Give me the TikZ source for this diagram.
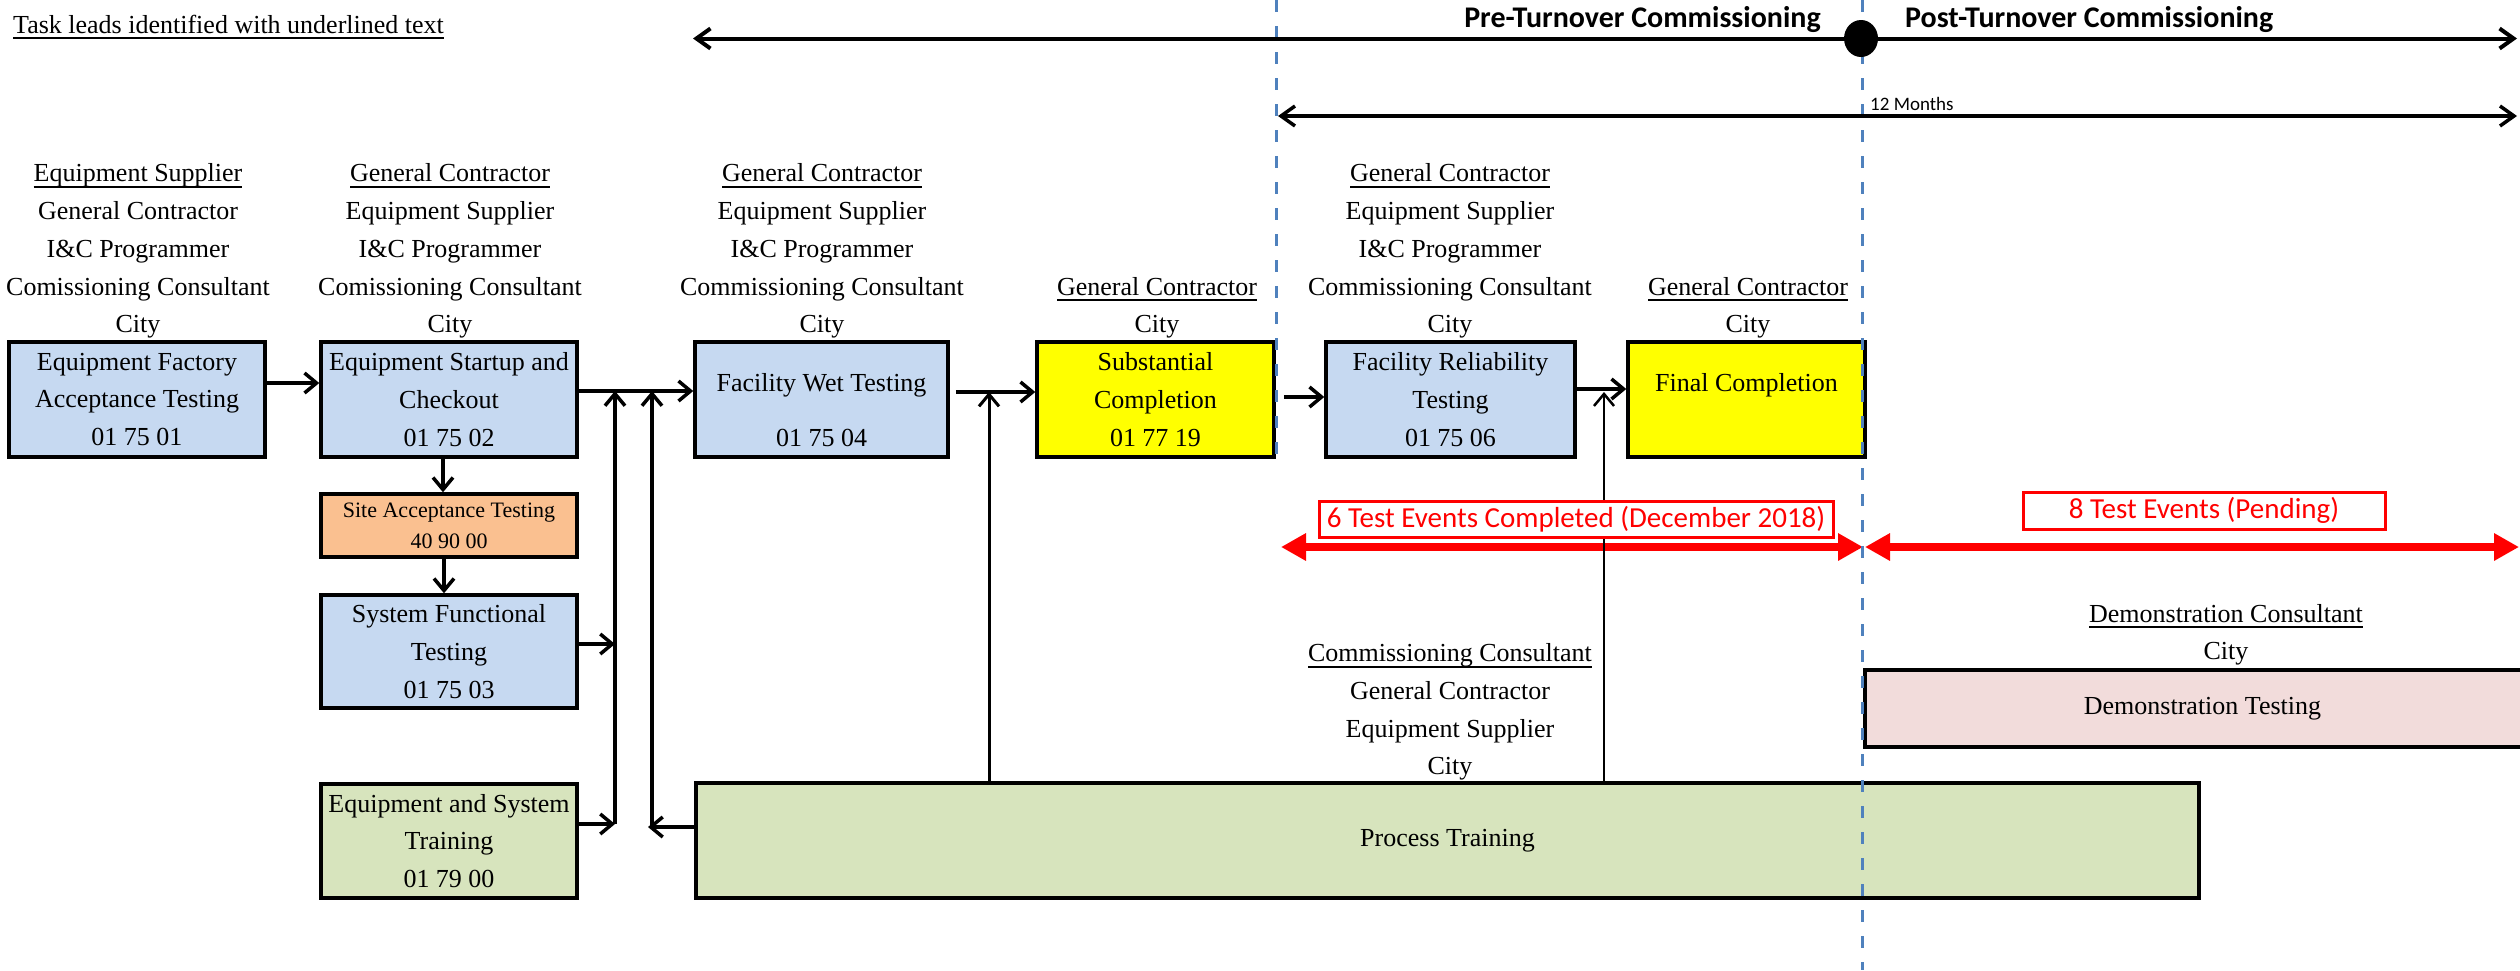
\documentclass[tikz,border=0pt]{standalone}
\usepackage{fontspec}
\setmainfont{Liberation Serif}
\newfontfamily\calib{Carlito}
\usetikzlibrary{arrows.meta,shapes.geometric}
\definecolor{boxblue}{HTML}{C6D9F1}
\definecolor{boxorange}{HTML}{FAC090}
\definecolor{boxgreen}{HTML}{D7E4BD}
\definecolor{boxpink}{HTML}{F2DCDB}
\definecolor{dashblue}{HTML}{4F81BD}
\definecolor{pureyellow}{HTML}{FFFF00}
\newcommand\myul[1]{\setbox0=\hbox{#1}\rlap{\rule[-6pt]{\wd0}{2pt}}\box0}
\newcommand\lastdp{\rule[-8pt]{0pt}{8pt}}
\begin{document}
\begin{tikzpicture}[x=1pt,y=-1pt,
  every node/.style={font=\fontsize{26}{37.75}\selectfont, inner sep=0pt},
  box/.style={draw, line width=3.5pt, align=center},
  bluebox/.style={box, fill=boxblue},
  yellowbox/.style={box, fill=pureyellow},
  orangebox/.style={box, fill=boxorange, font=\fontsize{22}{31}\selectfont},
  greenbox/.style={box, fill=boxgreen},
  pinkbox/.style={box, fill=boxpink},
  lead/.style={align=center, anchor=south},
  conn/.style={line width=3.5pt, -{Straight Barb[length=12pt,width=20pt]}},
  midconn/.style={conn, line width=3pt},
  thinconn/.style={conn, line width=2.5pt},
  dashv/.style={draw=dashblue, line width=3pt, dash pattern=on 12pt off 14pt},
  redarrow/.style={draw=red, line width=8pt, {Triangle[length=25pt,width=26pt]}-{Triangle[length=25pt,width=26pt]}},
  redbox/.style={draw=red, line width=3pt, fill=white, text=red, font=\calib\fontsize{29}{34}\selectfont},
  twoway/.style={line width=4pt, {Straight Barb[length=14pt,width=20pt]}-{Straight Barb[length=14pt,width=20pt]}},
  header/.style={font=\calib\bfseries\fontsize{30}{36}\selectfont}
]
\useasboundingbox (0,0) rectangle (2520,970);

% title note
\node[anchor=base west] (task) at (13,33) {\myul{Task leads identified with underlined text}};

% main row boxes
\node[bluebox, minimum width=256pt, minimum height=115pt] (b1) at (137,399.5) {Equipment Factory\\Acceptance Testing\\01 75 01};
\node[bluebox, minimum width=256pt, minimum height=115pt] (b2) at (449,399.5) {Equipment Startup and\\Checkout\\01 75 02};
\node[bluebox, minimum width=253pt, minimum height=115pt] (b3) at (821.5,399.5) {};
\node[align=center] (b3t) at (821.5,410.3) {Facility Wet Testing\\[17.5pt]01 75 04};
\node[yellowbox, minimum width=237pt, minimum height=115pt] (b4) at (1155.5,399.5) {Substantial\\Completion\\01 77 19};
\node[bluebox, minimum width=249pt, minimum height=115pt] (b5) at (1450.5,399.5) {Facility Reliability\\Testing\\01 75 06};
\node[yellowbox, minimum width=237pt, minimum height=115pt] (b6) at (1746.5,399.5) {};
\node (b6t) at (1746.5,385.5) {Final Completion};

% left column
\node[orangebox, minimum width=256pt, minimum height=63pt] (sat) at (449,525.5) {Site Acceptance Testing\\40 90 00};
\node[bluebox, minimum width=256pt, minimum height=113pt] (sft) at (449,651.5) {System Functional\\Testing\\01 75 03};
\node[greenbox, minimum width=256pt, minimum height=114pt] (est) at (449,841) {Equipment and System\\Training\\01 79 00};

% bottom boxes
\node[greenbox, minimum width=1503pt, minimum height=115pt] (pt) at (1447.5,840.5) {Process Training};
\node[pinkbox, minimum width=675pt, minimum height=77pt] (demo) at (2202.5,708.5) {Demonstration Testing};

% task leads
\node[lead] (l1) at (138,341) {\myul{Equipment Supplier}\\General Contractor\\I\&C Programmer\\Comissioning Consultant\\City\lastdp};
\node[lead] (l2) at (450,341) {\myul{General Contractor}\\Equipment Supplier\\I\&C Programmer\\Comissioning Consultant\\City\lastdp};
\node[lead] (l3) at (822,341) {\myul{General Contractor}\\Equipment Supplier\\I\&C Programmer\\Commissioning Consultant\\City\lastdp};
\node[lead] (l4) at (1157,341) {\myul{General Contractor}\\City\lastdp};
\node[lead] (l5) at (1450,341) {\myul{General Contractor}\\Equipment Supplier\\I\&C Programmer\\Commissioning Consultant\\City\lastdp};
\node[lead] (l6) at (1748,341) {\myul{General Contractor}\\City\lastdp};
\node[lead] (l7) at (1450,783) {\myul{Commissioning Consultant}\\General Contractor\\Equipment Supplier\\City\lastdp};
\node[lead] (l8) at (2226,668) {\myul{Demonstration Consultant}\\City\lastdp};

% red test-event arrows
\coordinate (r1a) at (1281,547);
\coordinate (r1b) at (1863,547);
\coordinate (r2a) at (1865,547);
\coordinate (r2b) at (2519,547);
\draw[redarrow] (r1a) -- (r1b);
\draw[redarrow] (r2a) -- (r2b);

% connectors
\coordinate (v1b) at (615,824);
\coordinate (v1t) at (615,391);
\coordinate (v2b) at (652,827);
\coordinate (v2t) at (652,391);
\coordinate (v3t) at (989,392);
\coordinate (v4t) at (1604,392);
\draw[conn] (b1.east |- 0,383) -- (b2.west |- 0,383);
\draw[conn] (b2.east |- 0,391) -- (b3.west |- 0,391);
\draw[conn] (v1b) -- (v1t);
\draw[conn] (est.east |- v1b) -- (v1b);
\draw[conn] (sft.east |- 0,644) -- (v1b |- 0,644);
\draw[conn] (v2b) -- (v2t);
\draw[conn] (pt.west |- v2b) -- ([xshift=-4pt]v2b);
\draw[conn] ([xshift=-6pt]b2.south) -- ([xshift=-6pt]sat.north);
\draw[conn] ([xshift=-5pt]sat.south) -- ([xshift=-5pt]sft.north);
\draw[conn, shorten <=6pt] (b3.east |- 0,392) -- (b4.west |- 0,392);
\draw[midconn] (pt.north -| v3t) -- (v3t);
\draw[conn, shorten <=8pt] (b4.east |- 0,397) -- (b5.west |- 0,397);
\draw[conn] (b5.east |- 0,389) -- (b6.west |- 0,389);
\draw[thinconn] (pt.north -| v4t) -- (v4t);

% red labels
\node[redbox, minimum width=514pt, minimum height=36pt] (red1) at (1576,519) {6 Test Events Completed (December 2018)};
\node[redbox, minimum width=362pt, minimum height=37pt] (red2) at (2204,510.5) {8 Test Events (Pending)};

% dashed phase lines
\draw[dashv] (1276,0) -- (1276,458);
\draw[dashv] (1862,0) -- (1862,970);

% timeline
\draw[twoway] (693,38.5) -- (2517,38.5);
\draw[twoway, line width=3.5pt] (1278,116) -- (2517,116);
\node[ellipse, fill=black, minimum width=34pt, minimum height=37pt] (dot) at (1861,38.5) {};
\node[header, anchor=base east] (pre) at (1821,27) {Pre-Turnover Commissioning};
\node[header, anchor=base west] (post) at (1905,27) {Post-Turnover Commissioning};
\node[font=\calib\fontsize{19}{23}\selectfont, anchor=base west] (twelve) at (1870,110) {12 Months};
\end{tikzpicture}
\end{document}
